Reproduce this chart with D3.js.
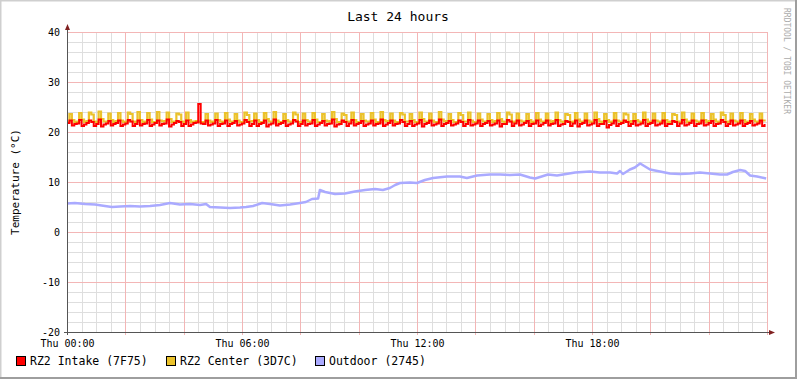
<!DOCTYPE html>
<html><head><meta charset="utf-8">
<script src="https://cdn.jsdelivr.net/npm/d3@7"></script>
<style>
html,body{margin:0;padding:0;background:#fff;}
svg{display:block;}
text{font-family:"DejaVu Sans Mono",monospace;}
</style></head>
<body>
<script>
// ---------- data ----------
const title = "Last 24 hours";
const yLabel = "Temperature (°C)";
const seriesNames = ["RZ2 Intake (7F75)", "RZ2 Center (3D7C)", "Outdoor (2745)"];
const seriesColors = ["#FF0000", "#EBC22B", "#AAAAFF"];
const yTicks = [-20, -10, 0, 10, 20, 30, 40];
const xTickHours = [0, 6, 12, 18];
const xTickLabels = ["Thu 00:00", "Thu 06:00", "Thu 12:00", "Thu 18:00"];
const stepMinutes = 5;

// RZ2 Intake (5-minute samples)
const intake = [
21.8,22.3,21.3,21.6, 21.7,22.4,21.2,21.5, 21.8,22.3,22.0,21.2, 21.6,22.5,21.1,21.5, 21.7,22.2,21.3,21.6, 21.8,22.3,21.2,21.5, 21.7,22.4,22.1,21.2, 21.6,22.3,21.3,21.6,
21.7,22.4,21.2,21.5, 21.8,22.3,21.3,21.6, 21.7,22.5,21.1,21.5, 21.8,22.2,22.0,21.2, 21.6,22.3,21.2,21.5, 21.8,21.9,25.6,21.7, 21.6,22.3,21.3,21.5, 21.7,22.4,21.2,21.6,
21.7,22.3,21.2,21.6, 21.8,22.2,21.3,21.5, 21.7,22.4,22.0,21.2, 21.6,22.3,21.2,21.6, 21.8,22.3,21.1,21.5, 21.7,22.5,21.3,21.6, 21.8,22.2,21.2,21.5, 21.7,22.4,22.1,21.2,
21.6,22.3,21.3,21.6, 21.7,22.4,21.2,21.5, 21.8,22.2,21.3,21.6, 21.7,22.5,21.1,21.5, 21.6,22.3,22.0,21.2, 21.7,22.4,21.3,21.6, 21.8,22.2,21.2,21.5, 21.7,22.3,21.3,21.6,
21.7,22.5,21.2,21.5, 21.8,22.3,21.3,21.6, 21.7,22.4,22.0,21.2, 21.6,22.2,21.2,21.5, 21.7,22.4,21.1,21.6, 21.8,22.3,21.3,21.5, 21.7,22.5,21.2,21.6, 21.8,22.2,21.3,21.5,
21.7,22.3,22.0,21.2, 21.6,22.4,21.3,21.5, 21.7,22.3,21.2,21.6, 21.8,22.2,21.3,21.5, 21.7,22.3,21.1,21.6, 21.6,22.4,22.1,21.2, 21.7,22.3,21.3,21.5, 21.8,22.2,21.2,21.6,
21.7,22.3,21.2,21.5, 21.8,22.3,21.3,21.6, 21.7,22.4,21.2,21.5, 21.6,22.2,22.0,21.2, 21.7,22.3,21.1,21.6, 21.8,22.3,21.3,21.5, 21.7,22.4,21.2,21.6, 21.6,22.2,20.9,21.4,
21.7,22.3,21.2,21.6, 21.8,22.3,22.0,21.2, 21.6,22.2,21.3,21.5, 21.7,22.4,21.2,21.6, 21.8,22.3,21.3,21.5, 21.7,22.3,21.2,21.6, 21.6,22.2,22.0,21.2, 21.7,22.4,21.3,21.5,
21.8,22.3,21.2,21.6, 21.7,22.3,21.3,21.5, 21.8,22.2,21.2,21.6, 21.7,22.4,22.0,21.2, 21.6,22.3,21.3,21.5, 21.7,22.3,21.2,21.6, 21.8,22.2,21.3,21.5, 21.7,22.3,21.2,21.6
];

// RZ2 Center (5-minute samples)
const center = [
22.0,23.6,22.4,22.0, 22.1,23.8,22.5,22.0, 22.2,23.9,23.5,22.1, 22.0,24.1,22.6,22.1, 22.1,23.7,22.4,22.0, 22.2,23.8,22.3,22.0, 22.1,23.9,23.6,22.1, 22.0,24.0,22.4,22.0,
22.1,23.8,22.5,22.0, 22.0,24.0,22.3,22.1, 22.2,23.9,22.6,22.0, 22.1,23.7,23.5,22.1, 22.0,23.9,22.4,22.0, 22.1,22.2,22.0,22.0, 22.0,23.6,22.3,22.0, 22.1,23.7,22.4,22.1,
22.0,23.8,22.5,22.1, 22.1,23.6,22.3,22.0, 22.0,23.9,23.4,22.1, 22.2,23.7,22.4,22.0, 22.0,23.8,22.6,22.1, 22.1,24.0,22.3,22.0, 22.0,23.6,22.4,22.1, 22.1,23.9,23.5,22.0,
22.0,23.7,22.4,22.1, 22.1,23.8,22.5,22.0, 22.0,23.6,22.3,22.1, 22.2,24.0,22.6,22.0, 22.0,23.7,23.4,22.1, 22.1,23.9,22.4,22.0, 22.0,23.6,22.3,22.1, 22.1,23.8,22.5,22.0,
22.0,24.0,22.4,22.1, 22.2,23.7,22.3,22.0, 22.0,23.8,23.5,22.1, 22.1,23.6,22.4,22.0, 22.0,23.9,22.6,22.1, 22.1,23.7,22.3,22.0, 22.0,24.0,22.5,22.1, 22.2,23.6,22.4,22.0,
22.0,23.8,23.4,22.1, 22.1,23.9,22.3,22.0, 22.0,23.7,22.5,22.1, 22.1,23.6,22.4,22.0, 22.2,23.8,22.6,22.1, 22.0,23.9,23.5,22.0, 22.1,23.7,22.3,22.1, 22.0,23.6,22.4,22.0,
22.1,23.8,22.5,22.1, 22.0,23.7,22.3,22.0, 22.2,23.9,22.4,22.1, 22.0,23.6,23.4,22.0, 22.1,23.8,22.5,22.1, 22.0,23.7,22.3,22.0, 22.1,23.9,22.6,22.1, 22.0,23.6,22.4,22.0,
22.1,23.8,22.3,22.1, 22.0,23.7,23.5,22.0, 22.2,23.6,22.4,22.1, 22.0,23.9,22.5,22.0, 22.1,23.7,22.3,22.1, 22.0,23.8,22.4,22.0, 22.1,23.6,23.4,22.1, 22.0,23.9,22.5,22.0,
22.1,23.7,22.3,22.1, 22.0,23.8,22.4,22.0, 22.2,23.6,22.5,22.1, 22.0,23.9,23.4,22.0, 22.1,23.7,22.3,22.1, 22.0,23.8,22.4,22.0, 22.1,23.6,22.5,22.1, 22.0,23.7,22.3,22.1
];

// Outdoor (hour of day, value)
const outdoorHours = [0.00,0.27,0.62,0.96,1.30,1.54,1.82,2.16,2.50,2.85,3.19,3.53,3.87,4.22,4.56,4.77,4.90,5.25,5.59,5.93,6.14,6.38,6.69,6.96,7.30,7.65,7.99,8.19,8.40,8.61,8.67,8.85,9.19,9.53,9.87,10.22,10.56,10.83,11.07,11.25,11.42,11.76,12.00,12.27,12.55,13.03,13.47,13.71,14.06,14.50,14.85,15.19,15.53,15.87,16.05,16.22,16.49,16.80,17.01,17.42,17.93,18.27,18.62,18.86,18.96,19.06,19.30,19.47,19.65,19.82,19.99,20.33,20.67,21.02,21.36,21.70,22.05,22.39,22.63,22.83,23.08,23.25,23.42,23.66,23.97];
const outdoorValues = [5.7,5.8,5.6,5.5,5.2,5.0,5.1,5.2,5.1,5.2,5.4,5.8,5.5,5.6,5.4,5.6,5.0,4.9,4.8,4.9,5.0,5.2,5.8,5.6,5.3,5.5,5.8,6.0,6.6,6.7,8.4,8.0,7.6,7.7,8.1,8.4,8.6,8.4,8.8,9.4,9.8,9.9,9.8,10.4,10.8,11.1,11.1,10.8,11.3,11.5,11.5,11.4,11.5,10.9,10.7,11.0,11.5,11.3,11.5,11.9,12.1,11.9,11.9,11.7,12.2,11.6,12.5,12.9,13.7,13.1,12.5,12.1,11.7,11.6,11.7,11.9,11.7,11.5,11.5,12.0,12.4,12.2,11.3,11.1,10.7];

// ---------- chart ----------
const W = 797, H = 379;
const L = 67, R = 767, T = 32, B = 332;

const svg = d3.select("body").append("svg").attr("width", W).attr("height", H);
svg.append("rect").attr("width", W).attr("height", H).attr("fill", "#fff");
// frame (3d shading)
svg.append("path").attr("d", `M0.5,${H}V0.5H${W}`).attr("stroke", "#CFCFCF").attr("stroke-width", 2).attr("fill", "none");
svg.append("path").attr("d", `M${W-1},0V${H-1}H0`).attr("stroke", "#9E9E9E").attr("stroke-width", 2).attr("fill", "none");

const x = d3.scaleLinear().domain([0, 24]).range([L, R]);
const y = d3.scaleLinear().domain([-20, 40]).range([B, T]);

const grid = svg.append("g").attr("shape-rendering", "crispEdges");
// minor grid
d3.range(-20, 41, 2).forEach(v => {
  if (v % 10 !== 0) grid.append("line").attr("x1", L).attr("x2", R + 1).attr("y1", y(v) + 0.5).attr("y2", y(v) + 0.5).attr("stroke", "#DEDEDE");
});
d3.range(0, 24.01, 0.5).forEach(h => {
  if (h % 2 !== 0) grid.append("line").attr("x1", x(h) + 0.5).attr("x2", x(h) + 0.5).attr("y1", T).attr("y2", B).attr("stroke", "#DEDEDE");
});
// major grid
yTicks.forEach(v => {
  grid.append("line").attr("x1", L).attr("x2", R + 1).attr("y1", y(v) + 0.5).attr("y2", y(v) + 0.5).attr("stroke", "#F3B6B6");
});
d3.range(0, 24.01, 2).forEach(h => {
  grid.append("line").attr("x1", x(h) + 0.5).attr("x2", x(h) + 0.5).attr("y1", T).attr("y2", B + 3).attr("stroke", "#F3B6B6");
});

// series
const sampleHour = i => i * stepMinutes / 60;
const stepLine = d3.line().x((d, i) => x(sampleHour(i))).y(d => y(d)).curve(d3.curveStepAfter);
const outLine = d3.line().x(d => x(d[0])).y(d => y(d[1]));
const outdoorPts = outdoorHours.map((h, i) => [h, outdoorValues[i]]);

svg.append("path").datum(outdoorPts).attr("d", outLine).attr("fill", "none").attr("stroke", seriesColors[2]).attr("stroke-width", 2.5).attr("stroke-linejoin", "round");
svg.append("path").datum(center).attr("d", stepLine).attr("fill", "none").attr("stroke", seriesColors[1]).attr("stroke-width", 2.2);
svg.append("path").datum(intake).attr("d", stepLine).attr("fill", "none").attr("stroke", seriesColors[0]).attr("stroke-width", 2);

// axes lines + arrows
const axc = "#555", arc = "#802020";
svg.append("line").attr("x1", L + 0.5).attr("x2", L + 0.5).attr("y1", B + 3).attr("y2", T - 5).attr("stroke", axc).attr("shape-rendering", "crispEdges");
svg.append("line").attr("x1", L - 3).attr("x2", R + 5).attr("y1", B + 0.5).attr("y2", B + 0.5).attr("stroke", axc).attr("shape-rendering", "crispEdges");
svg.append("path").attr("d", `M${L + 0.5},${T - 8}L${L - 2},${T - 2}L${L + 3},${T - 2}Z`).attr("fill", arc);
svg.append("path").attr("d", `M${R + 8},${B + 0.5}L${R + 2},${B - 2}L${R + 2},${B + 3}Z`).attr("fill", arc);

// axis labels via d3 axes
const yAxis = d3.axisLeft(y).tickValues(yTicks).tickSize(0).tickPadding(7).tickFormat(d => String(d));
const gy = svg.append("g").attr("transform", `translate(${L},0)`).call(yAxis);
gy.select(".domain").remove();
gy.selectAll("text").attr("font-size", 10).attr("fill", "#000").attr("font-family", "DejaVu Sans Mono").attr("dy", "0.36em");

const xAxis = d3.axisBottom(x).tickValues(xTickHours).tickSize(0).tickFormat((d, i) => xTickLabels[i]);
const gx = svg.append("g").attr("transform", `translate(0,${B})`).call(xAxis);
gx.select(".domain").remove();
gx.selectAll("text").attr("font-size", 10).attr("fill", "#000").attr("font-family", "DejaVu Sans Mono").attr("y", 15).attr("dy", 0);

// title
svg.append("text").attr("x", 398).attr("y", 21).attr("text-anchor", "middle").attr("font-size", 13).text(title);
// y label
svg.append("text").attr("transform", `translate(19,182) rotate(-90)`).attr("text-anchor", "middle").attr("font-size", 11).text(yLabel);
// watermark
svg.append("text").attr("transform", `translate(784,8) rotate(90)`).attr("text-anchor", "start").attr("font-size", 8).attr("fill", "#ABABAB").text("RRDTOOL / TOBI OETIKER");

// legend
const legX = [16, 166, 315];
seriesNames.forEach((n, i) => {
  svg.append("rect").attr("x", legX[i] + 0.5).attr("y", 356.5).attr("width", 9).attr("height", 9).attr("fill", seriesColors[i]).attr("stroke", "#000").attr("stroke-width", 1);
  svg.append("text").attr("x", legX[i] + 14).attr("y", 365).attr("font-size", 11.5).text(n);
});
</script>
</body></html>
